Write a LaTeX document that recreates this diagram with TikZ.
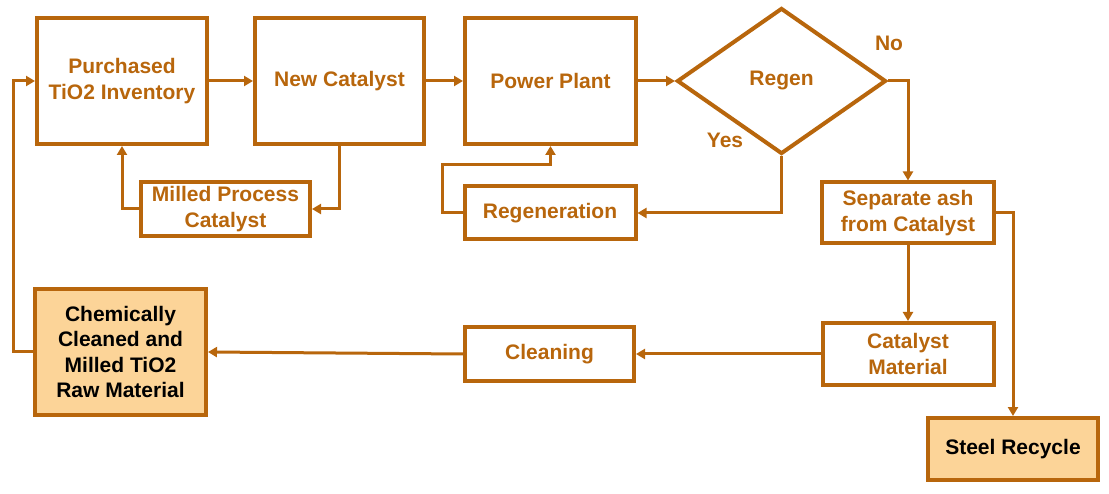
\documentclass[tikz,border=0pt]{standalone}
\usepackage{fontspec}
\setmainfont{Liberation Sans}
\usetikzlibrary{arrows.meta,shapes.geometric}
\definecolor{brn}{RGB}{184,102,12}
\definecolor{lfill}{RGB}{252,212,152}
\tikzset{
  box/.style={draw=brn,line width=4pt,fill=white,text=brn,align=center,inner sep=2pt,
    font=\bfseries\fontsize{21}{25.5}\selectfont},
  hbox/.style={box,fill=lfill,text=black},
  arr/.style={draw=brn,line width=3pt,-{Triangle[length=9pt,width=10pt]}},
  lbl/.style={text=brn,font=\bfseries\fontsize{21}{25.5}\selectfont}
}
\begin{document}
\begin{tikzpicture}[x=1pt,y=-1pt]
\useasboundingbox (0,0) rectangle (1109,494);
\node[box,minimum width=170,minimum height=126] (pur) at (122,81) {Purchased\\TiO2 Inventory};
\node[box,minimum width=169,minimum height=126] (new) at (339.5,81) {New Catalyst};
\node[box,minimum width=171,minimum height=126] (pow) at (550.5,81) {Power Plant};
\node[box,diamond,inner sep=0pt,minimum width=209,minimum height=146] (reg) at (781.5,81) {Regen};
\node[box,minimum width=169,minimum height=54] (mil) at (225.5,209) {Milled Process\\Catalyst};
\node[box,minimum width=171,minimum height=53] (rgn) at (550,213) {Regeneration};
\node[box,minimum width=172,minimum height=61] (sep) at (908,213) {Separate ash\\from Catalyst};
\node[box,minimum width=171,minimum height=62] (cat) at (908,354) {Catalyst\\Material};
\node[hbox,minimum width=170,minimum height=62] (stl) at (1013,449) {Steel Recycle};
\node[box,minimum width=169,minimum height=54] (cln) at (549.5,354) {Cleaning};
\node[hbox,minimum width=171,minimum height=125] (chm) at (120.5,352) {Chemically\\Cleaned and\\Milled TiO2\\Raw Material};
\node[lbl] (no) at (889,43) {No};
\node[lbl] (yes) at (725,140) {Yes};

\draw[arr] (pur) -- (new);
\draw[arr] (new) -- (pow);
\draw[arr] (pow) -- (reg.west);
\draw[arr] (new.south) |- (mil.east);
\draw[arr] (mil.west) -| (pur.south);
\draw[arr] (reg.east) -| (sep.north);
\draw[arr] (reg.south) |- (rgn.east);
\draw[arr] (rgn.west) -- ++(-20,0) |- ([yshift=-19pt]pow.south) -- (pow.south);
\draw[arr] (sep.south) -- (cat.north);
\draw[arr] (sep.east) -| (stl.north);
\draw[arr] (cat.west) -- (cln.east);
\draw[arr] (cln.west) -- (chm.east);
\draw[arr] (chm.west) -- ++(-20,0) |- (pur.west);
\end{tikzpicture}
\end{document}
